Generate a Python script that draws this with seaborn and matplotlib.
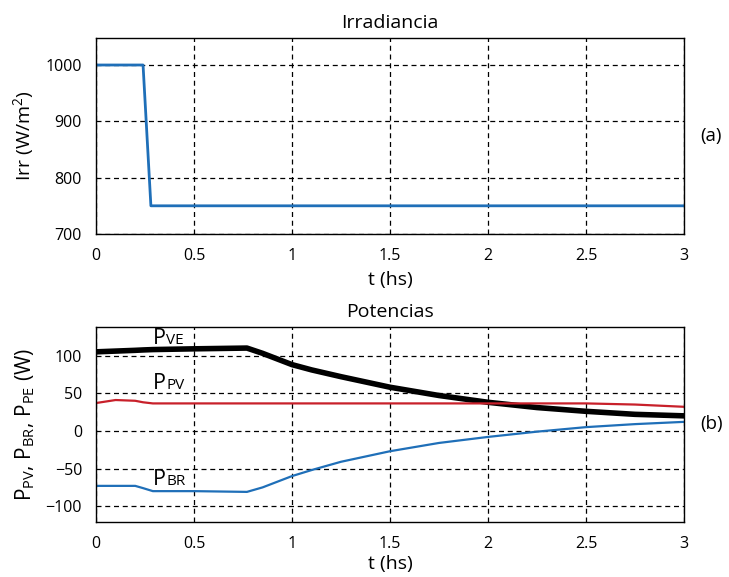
import numpy as np
import pandas as pd
import seaborn as sns
import matplotlib.pyplot as plt

# Irradiancia
t_irr = [0, 0.24, 0.28, 3.0]
irr = [1000, 1000, 750, 750]

# Potencias
t_pot = [0, 0.1, 0.2, 0.24, 0.29, 0.5, 0.77, 0.85, 0.9, 1.0, 1.1, 1.25, 1.5, 1.75, 2.0, 2.25, 2.5, 2.75, 3.0]
p_ve = [105, 106, 107, 107.5, 108, 109, 110, 103, 98, 88, 81, 72, 58, 47, 38, 31, 26, 22, 20]
p_pv = [37, 41, 40, 38, 36.5, 36.5, 36.5, 36.5, 36.5, 36.5, 36.5, 36.5, 36.5, 36.5, 36.5, 36.5, 36.5, 35, 32]
p_br = [-73, -73, -73, -76, -80, -80, -81, -75, -70, -60, -52, -41, -27, -16, -8, -1, 5, 9, 12]

df_irr = pd.DataFrame({'t': t_irr, 'irr': irr})
df_pot = pd.DataFrame({'t': t_pot, 've': p_ve, 'pv': p_pv, 'br': p_br})

sns.set_theme(style="white")
plt.rcParams['font.family'] = ['Open Sans', 'DejaVu Sans']
plt.rcParams['mathtext.fontset'] = 'custom'
plt.rcParams['mathtext.rm'] = 'Open Sans'
plt.rcParams['text.color'] = 'black'
plt.rcParams['axes.labelcolor'] = 'black'
plt.rcParams['xtick.color'] = 'black'
plt.rcParams['ytick.color'] = 'black'

blue = '#1f6fb8'
red = '#c8202a'

fig = plt.figure(figsize=(7.29, 5.77), dpi=100)
ax1 = fig.add_axes([0.1317, 0.5945, 0.8066, 0.3397])
ax2 = fig.add_axes([0.1317, 0.0953, 0.8066, 0.338])

sns.lineplot(data=df_irr, x='t', y='irr', ax=ax1, color=blue, linewidth=2)
ax1.set_xlim(0, 3)
ax1.set_ylim(700, 1048)
ax1.set_yticks([700, 800, 900, 1000])
ax1.set_xticks([0, 0.5, 1, 1.5, 2, 2.5, 3])
ax1.set_xticklabels(['0', '0.5', '1', '1.5', '2', '2.5', '3'])
ax1.set_title('Irradiancia', fontsize=14, pad=7)
ax1.set_xlabel('t (hs)', fontsize=14, labelpad=5)
ax1.set_ylabel('Irr (W/m$^2$)', fontsize=14, labelpad=6)
ax1.text(1.028, 0.5, '(a)', transform=ax1.transAxes, fontsize=13.5, va='center')

sns.lineplot(data=df_pot, x='t', y='ve', ax=ax2, color='black', linewidth=4)
sns.lineplot(data=df_pot, x='t', y='pv', ax=ax2, color=red, linewidth=1.6)
sns.lineplot(data=df_pot, x='t', y='br', ax=ax2, color=blue, linewidth=1.6)
ax2.set_xlim(0, 3)
ax2.set_ylim(-121, 138)
ax2.set_yticks([-100, -50, 0, 50, 100])
ax2.set_xticks([0, 0.5, 1, 1.5, 2, 2.5, 3])
ax2.set_xticklabels(['0', '0.5', '1', '1.5', '2', '2.5', '3'])
ax2.set_title('Potencias', fontsize=14, pad=7)
ax2.set_xlabel('t (hs)', fontsize=14, labelpad=2)
ax2.set_ylabel('P$_{\\mathrm{PV}}$, P$_{\\mathrm{BR}}$, P$_{\\mathrm{PE}}$ (W)', fontsize=15, labelpad=6)
ax2.text(1.028, 0.5, '(b)', transform=ax2.transAxes, fontsize=13.5, va='center')

# curve labels: big P + small letters on the same baseline
for name, yb in [('VE', 115), ('PV', 56), ('BR', -72)]:
    ax2.text(0.29, yb, 'P', fontsize=15.5, va='baseline')
    ax2.annotate(name, xy=(0.29, yb), xytext=(9.5, 0), textcoords='offset points',
                 fontsize=11, va='baseline')

for ax in (ax1, ax2):
    ax.grid(True, color='black', linestyle=(0, (4, 3)), linewidth=0.9)
    ax.tick_params(labelsize=11.5, length=0, pad=10)
    for s in ax.spines.values():
        s.set_color('black')
        s.set_linewidth(1)
        s.set_zorder(5)

fig.savefig('out.png', dpi=100)
